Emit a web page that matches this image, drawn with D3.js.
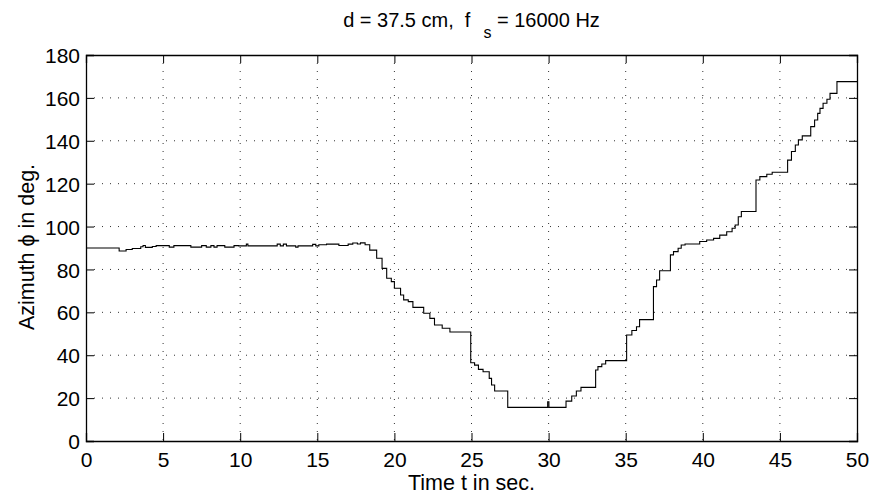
<!DOCTYPE html>
<html>
<head>
<meta charset="utf-8">
<script src="https://cdn.jsdelivr.net/npm/d3@7"></script>
<style>
  body { margin: 0; background: #fff; }
  svg { display: block; font-family: "Liberation Sans", Arial, Helvetica, sans-serif; }
</style>
</head>
<body>
<svg id="chart" width="872" height="495"></svg>
<script>
// step points: time (s) and azimuth (deg), value holds until next time
var stepTimes = [0, 2.15, 2.6, 3.0, 3.55, 3.7, 3.85, 4.3, 4.55, 5.4, 5.7, 6.8, 7.5, 7.8, 8.1, 8.3, 8.5, 9.0, 9.6,
  9.9, 10.4, 10.5, 12.4, 12.6, 12.8, 13.0, 13.6, 13.75, 14.7, 14.9, 15.1, 15.6, 16.4, 17.0, 17.3, 17.6, 17.8,
  18.1, 18.4, 18.85, 19.2, 19.5, 19.8, 20.0, 20.4, 20.6, 20.9, 21.2, 21.9, 22.3, 22.6, 23.1, 23.6,
  24.95, 25.2, 25.45, 25.75, 26.15, 26.3, 26.5, 27.35, 29.94, 30.02, 31.13, 31.5, 31.8, 32.1,
  33.05, 33.2, 33.45, 33.7, 35.06, 35.4, 35.7, 35.9, 36.8, 37.0, 37.2, 37.9, 38.1, 38.4, 38.6, 38.85,
  39.8, 40.25, 40.7, 41.1, 41.55, 41.9, 42.1, 42.3, 42.5, 43.45, 43.7, 44.15, 44.5, 45.5, 45.75, 46.0,
  46.2, 46.45, 47.0, 47.25, 47.45, 47.6, 47.8, 48.05, 48.25, 48.7, 50];
var azimuth = [90, 88.6, 89.3, 89.8, 90.6, 91.2, 90.3, 90.7, 91.1, 90.4, 91.1, 90.4, 91.1, 90.4, 91.1, 90.4, 91.1, 90.4, 91.1,
  91.0, 91.8, 91.0, 91.8, 91.0, 91.8, 91.0, 90.4, 91.0, 91.7, 91.0, 91.5, 91.8, 91.2, 91.8, 92.3, 91.9, 92.4,
  91.5, 89, 85.2, 80.5, 75.9, 74.3, 71.2, 68.1, 65.8, 65, 62.3, 59.6, 57.2, 54.1, 52.6, 50.8,
  36.5, 35.4, 33.4, 32.3, 29.2, 26.1, 23.3, 15.7, 18.3, 15.7, 18.6, 21, 23.3, 25,
  33.1, 34.7, 35.9, 37.5, 49.4, 51.5, 53.3, 56.6, 72, 75.1, 79.4, 86.8, 88.3, 89.9, 91.4, 91.9,
  93, 93.7, 94.5, 96, 97.6, 99.2, 100.7, 104.6, 107, 121.7, 123.3, 124.4, 125.3, 131, 135, 138,
  140.4, 142.3, 146.6, 149.7, 152.8, 155.1, 157.5, 159.4, 162.1, 167.6, 167.6];

var xTicks = [0, 5, 10, 15, 20, 25, 30, 35, 40, 45, 50];
var yTicks = [0, 20, 40, 60, 80, 100, 120, 140, 160, 180];

var svg = d3.select("#chart");
var width = 872, height = 495;
var margin = {top: 55, right: 15, bottom: 54, left: 86};
var w = width - margin.left - margin.right;
var h = height - margin.top - margin.bottom;

var x = d3.scaleLinear().domain([0, 50]).range([0, w]);
var y = d3.scaleLinear().domain([0, 180]).range([h, 0]);

svg.append("rect").attr("width", width).attr("height", height).attr("fill", "#fff");

var g = svg.append("g").attr("transform", "translate(" + margin.left + "," + margin.top + ")");

// dotted grid
g.append("g").selectAll("line").data(xTicks.slice(1, -1)).enter().append("line")
  .attr("x1", function(d) { return x(d); }).attr("x2", function(d) { return x(d); })
  .attr("y1", 0).attr("y2", h)
  .attr("stroke", "#333").attr("stroke-width", 1).attr("stroke-dasharray", "1,7");
g.append("g").selectAll("line").data(yTicks.slice(1, -1)).enter().append("line")
  .attr("y1", function(d) { return y(d); }).attr("y2", function(d) { return y(d); })
  .attr("x1", 0).attr("x2", w)
  .attr("stroke", "#333").attr("stroke-width", 1).attr("stroke-dasharray", "1,7");

// data line
var pts = stepTimes.map(function(t, i) { return [t, azimuth[i]]; });
var line = d3.line()
  .x(function(d) { return x(d[0]); })
  .y(function(d) { return y(d[1]); })
  .curve(d3.curveStepAfter);
g.append("path").datum(pts)
  .attr("d", line)
  .attr("fill", "none")
  .attr("stroke", "#000")
  .attr("stroke-width", 1.1);

// axes with inward ticks
var fs = "21px";
var axBottom = g.append("g").attr("transform", "translate(0," + h + ")")
  .call(d3.axisBottom(x).tickValues(xTicks).tickSize(-8).tickFormat(d3.format("d")));
var axTop = g.append("g")
  .call(d3.axisTop(x).tickValues(xTicks).tickSize(-8).tickFormat(""));
var axLeft = g.append("g")
  .call(d3.axisLeft(y).tickValues(yTicks).tickSize(-8).tickFormat(d3.format("d")));
var axRight = g.append("g").attr("transform", "translate(" + w + ",0)")
  .call(d3.axisRight(y).tickValues(yTicks).tickSize(-8).tickFormat(""));

[axBottom, axTop, axLeft, axRight].forEach(function(a) {
  a.select(".domain").attr("stroke", "#000").attr("stroke-width", 1.3);
  a.selectAll(".tick line").attr("stroke", "#000").attr("stroke-width", 1);
  a.selectAll("text").attr("font-family", null).attr("font-size", fs).attr("fill", "#000");
});
axBottom.selectAll("text").attr("dy", null).attr("y", 26);
axLeft.selectAll("text").attr("x", -6).attr("dy", "0.36em");

// labels
svg.append("text")
  .attr("x", margin.left + w / 2).attr("y", 490)
  .attr("text-anchor", "middle").attr("font-size", "21.5px")
  .text("Time t in sec.");

svg.append("text")
  .attr("transform", "translate(34,247) rotate(-90)")
  .attr("text-anchor", "middle").attr("font-size", "21.5px")
  .text("Azimuth \u03D5 in deg.");

var title = svg.append("text")
  .attr("x", margin.left + w / 2).attr("y", 27)
  .attr("text-anchor", "middle").attr("font-size", "20px");
title.append("tspan").text("d = 37.5 cm,  f").style("white-space", "pre");
title.append("tspan").attr("dx", 13).attr("dy", 11).attr("font-size", "16px").text("s");
title.append("tspan").attr("dy", -11).style("white-space", "pre").text(" = 16000 Hz");
</script>
</body>
</html>
